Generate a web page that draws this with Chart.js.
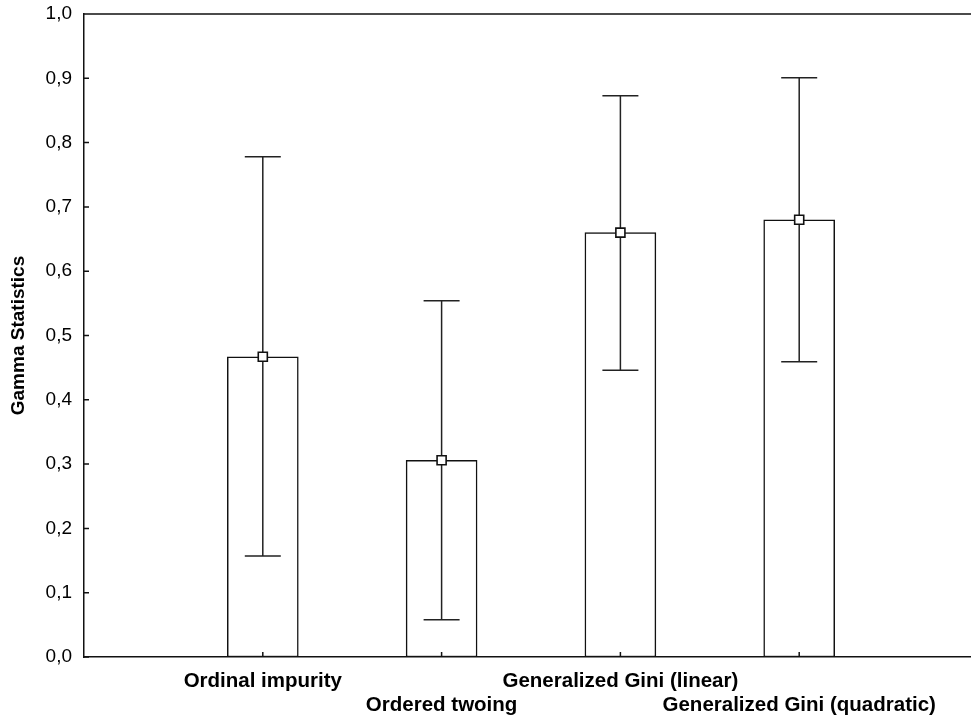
<!DOCTYPE html>
<html>
<head>
<meta charset="utf-8">
<script src="https://cdn.jsdelivr.net/npm/chart.js@4"></script>
<style>
  html, body { margin: 0; padding: 0; background: #fff; overflow: hidden; }
  /* the plot runs past the right edge of the picture, so the box is a bit wider than the window */
  #wrap { position: relative; width: 990px; height: 719px; }
</style>
</head>
<body>
<div id="wrap"><canvas id="myChart"></canvas></div>
<script>
// categories along the x axis
const categories = ['Ordinal impurity', 'Ordered twoing', 'Generalized Gini (linear)', 'Generalized Gini (quadratic)'];
// position of each category on the x axis
const positions = [1, 2, 3, 4];
// mean gamma statistic per method
const means = [0.467, 0.306, 0.660, 0.680];
// error bar ends
const lower = [0.157, 0.058, 0.446, 0.459];
const upper = [0.778, 0.554, 0.873, 0.901];
// y tick values
const yTicks = [0, 0.1, 0.2, 0.3, 0.4, 0.5, 0.6, 0.7, 0.8, 0.9, 1.0];

const ink = '#111';
const font = 'Liberation Sans, Arial, sans-serif';

/**
 * Draws the whiskers right after the bars, so the markers sit on top.
 */
const whiskers = {
    id: 'whiskers',
    afterDatasetDraw(chart, args) {
        if (args.index !== 0) return;
        const ctx = chart.ctx;
        const x = chart.scales.x;
        const y = chart.scales.y;
        ctx.save();
        ctx.strokeStyle = '#222';
        ctx.lineWidth = 1.5;
        for (let i = 0; i < positions.length; i++) {
            const px = x.getPixelForValue(positions[i]);
            const top = y.getPixelForValue(upper[i]);
            const bot = y.getPixelForValue(lower[i]);
            ctx.beginPath();
            ctx.moveTo(px, top);
            ctx.lineTo(px, bot);
            ctx.moveTo(px - 18, top);
            ctx.lineTo(px + 18, top);
            ctx.moveTo(px - 18, bot);
            ctx.lineTo(px + 18, bot);
            ctx.stroke();
        }
        ctx.restore();
    }
};

/**
 * Inward tick marks and the top line of the frame.
 */
const frame = {
    id: 'frame',
    afterDraw(chart) {
        const ctx = chart.ctx;
        const area = chart.chartArea;
        const x = chart.scales.x;
        const y = chart.scales.y;
        ctx.save();
        ctx.strokeStyle = ink;
        ctx.lineWidth = 1.5;
        ctx.beginPath();
        // top line
        ctx.moveTo(area.left, area.top);
        ctx.lineTo(area.right, area.top);
        // y ticks point into the plot
        for (const v of yTicks) {
            const py = y.getPixelForValue(v);
            ctx.moveTo(area.left, py);
            ctx.lineTo(area.left + 5, py);
        }
        // x ticks at each category
        for (const p of positions) {
            const px = x.getPixelForValue(p);
            ctx.moveTo(px, area.bottom);
            ctx.lineTo(px, area.bottom - 5);
        }
        ctx.stroke();
        ctx.restore();
    }
};

const ctx = document.getElementById('myChart').getContext('2d');
new Chart(ctx, {
    type: 'bar',
    data: {
        datasets: [{
            type: 'bar',
            order: 2,
            data: positions.map((p, i) => ({ x: p, y: means[i] })),
            backgroundColor: '#fff',
            borderColor: ink,
            borderWidth: 1.5,
            borderSkipped: false,
            barThickness: 71
        }, {
            type: 'line',
            order: 1,
            data: positions.map((p, i) => ({ x: p, y: means[i] })),
            showLine: false,
            pointStyle: 'rect',
            pointRadius: 6.4,
            pointBackgroundColor: '#fff',
            pointBorderColor: ink,
            pointBorderWidth: 1.6
        }]
    },
    options: {
        responsive: true,
        maintainAspectRatio: false,
        animation: false,
        events: [],
        layout: { padding: { top: 14, right: 11, left: 0, bottom: 0 } },
        plugins: {
            legend: { display: false },
            tooltip: { enabled: false }
        },
        scales: {
            x: {
                type: 'linear',
                min: 0,
                max: 5,
                offset: false,
                grid: { display: false, drawTicks: false },
                border: { display: true, color: ink, width: 1.5 },
                afterFit(scale) { scale.height = 62; },
                afterBuildTicks(scale) {
                    scale.ticks = [0, 1, 2, 3, 4, 5].map(v => ({ value: v }));
                },
                ticks: {
                    autoSkip: false,
                    maxRotation: 0,
                    minRotation: 0,
                    padding: 12,
                    color: '#000',
                    font: { family: font, size: 20.5, weight: 'bold', lineHeight: 1.17 },
                    // alternate rows so the long names do not overlap
                    callback(value) {
                        const i = positions.indexOf(value);
                        if (i < 0) return '';
                        return i % 2 === 0 ? [categories[i]] : ['', categories[i]];
                    }
                }
            },
            y: {
                min: 0,
                max: 1,
                grid: { display: false, drawTicks: false },
                border: { display: true, color: ink, width: 1.5 },
                afterFit(scale) { scale.width = 84; },
                afterBuildTicks(scale) {
                    scale.ticks = yTicks.map(v => ({ value: v }));
                },
                ticks: {
                    padding: 12,
                    color: '#000',
                    // small line height keeps the top label from pushing the plot down
                    font: { family: font, size: 19, lineHeight: 0.2 },
                    callback: v => v.toFixed(1).replace('.', ',')
                },
                title: {
                    display: true,
                    text: 'Gamma Statistics',
                    color: '#000',
                    padding: { top: 7, bottom: 0 },
                    font: { family: font, size: 19, weight: 'bold' }
                }
            }
        }
    },
    plugins: [whiskers, frame]
});
</script>
</body>
</html>
